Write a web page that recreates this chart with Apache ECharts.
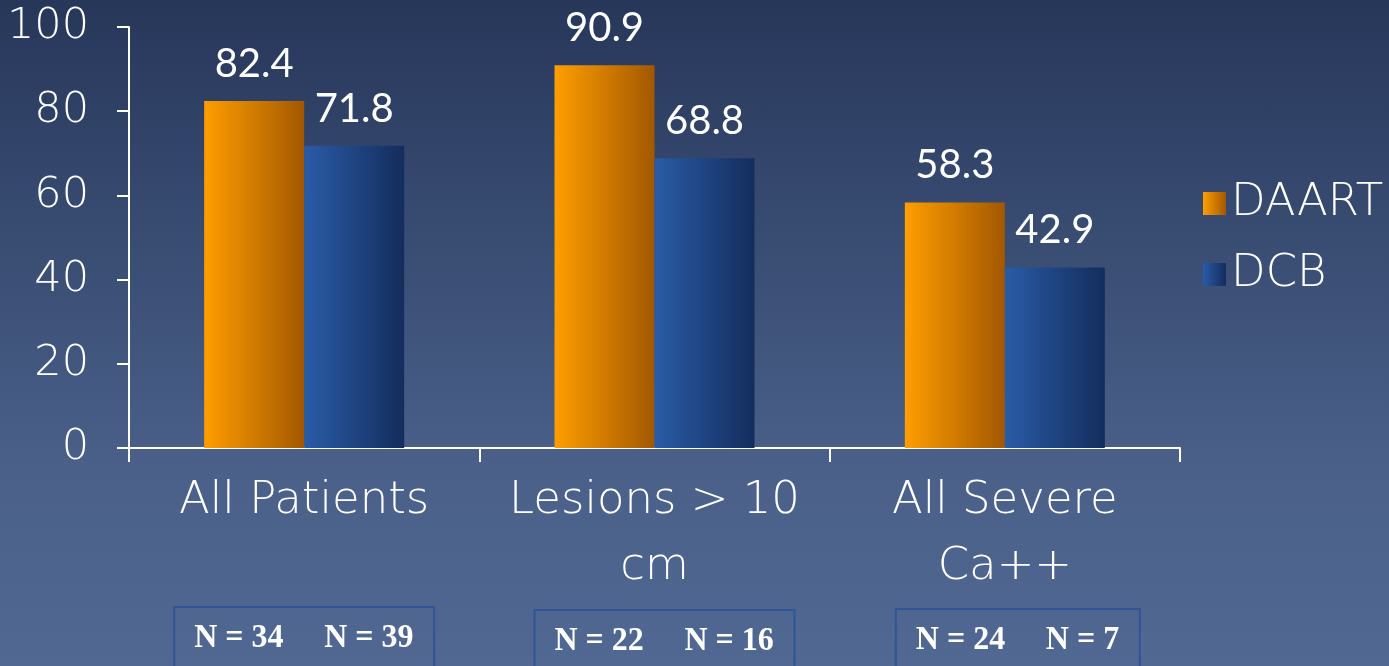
<!DOCTYPE html>
<html>
<head>
<meta charset="utf-8">
<script src="https://cdn.jsdelivr.net/npm/echarts@6/dist/echarts.min.js"></script>
<style>
  html, body { margin: 0; padding: 0; }
  #chart { width: 1389px; height: 666px; background: linear-gradient(to bottom, #27375a 0%, #4a6089 70%, #506892 100%); }
</style>
</head>
<body>
<div id="chart"></div>
<script>
// Success rates (%) by subgroup
const categories = ['All Patients', 'Lesions > 10\ncm', 'All Severe\nCa++'];
const seriesNames = ['DAART', 'DCB'];
const daartValues = [82.4, 90.9, 58.3];
const dcbValues = [71.8, 68.8, 42.9];
const daartN = [34, 22, 24];
const dcbN = [39, 16, 7];
const yTicks = [0, 20, 40, 60, 80, 100];

const FONT = '"DejaVu Sans", sans-serif';
const VALUE_FONT = 'Lato, "Liberation Sans", sans-serif';

function hGrad(c0, c1) {
  return new echarts.graphic.LinearGradient(0, 0, 1, 0, [
    { offset: 0, color: c0 },
    { offset: 1, color: c1 }
  ]);
}
const orangeGrad = hGrad('#ff9e00', '#a25800');
const blueGrad = hGrad('#2a5ba6', '#142d5c');

const chart = echarts.init(document.getElementById('chart'), null, { renderer: 'canvas' });

const valueLabel = {
  show: true, position: 'top', distance: 17, color: '#ffffff',
  fontSize: 40, fontFamily: VALUE_FONT, fontWeight: 400,
  formatter: p => p.value.toFixed(1)
};

const option = {
  backgroundColor: 'transparent',
  animation: false,
  grid: { left: 129, right: 209, top: 27, bottom: 218, containLabel: false },
  legend: {
    orient: 'vertical',
    left: 1198,
    top: 176,
    itemWidth: 23,
    itemHeight: 23,
    itemGap: 26,
    icon: 'rect',
    textStyle: { color: '#ffffff', fontSize: 45, fontFamily: FONT, fontWeight: 200 },
    data: seriesNames
  },
  xAxis: {
    type: 'category',
    data: categories,
    axisLine: { lineStyle: { color: '#ffffff', width: 2 } },
    axisTick: { show: true, length: 14, lineStyle: { color: '#ffffff', width: 2 } },
    axisLabel: {
      color: '#ffffff', fontSize: 45, fontFamily: FONT, fontWeight: 200,
      lineHeight: 66, margin: 20, interval: 0
    }
  },
  yAxis: {
    type: 'value',
    min: 0, max: 100, interval: 20,
    axisLine: { show: true, lineStyle: { color: '#ffffff', width: 2 } },
    axisTick: { show: true, inside: false, length: 12, lineStyle: { color: '#ffffff', width: 2 } },
    splitLine: { show: false },
    axisLabel: {
      color: '#ffffff', fontSize: 43, fontFamily: FONT, fontWeight: 200, margin: 40,
      formatter: v => (yTicks.includes(v) ? String(v) : '')
    }
  },
  series: [
    {
      name: seriesNames[0], type: 'bar', data: daartValues,
      barWidth: 100, barGap: '0%',
      itemStyle: { color: orangeGrad },
      label: valueLabel
    },
    {
      name: seriesNames[1], type: 'bar', data: dcbValues,
      barWidth: 100, barGap: '0%',
      itemStyle: { color: blueGrad },
      label: valueLabel
    }
  ]
};
chart.setOption(option);

// Sample-size boxes under each category
const boxLeftOffsets = [-130, -120, -109];
const boxWidths = [260, 260, 244];
const boxTops = [607, 610, 609];
const elements = [];
categories.forEach((c, i) => {
  const cx = chart.convertToPixel({ xAxisIndex: 0 }, i);
  const left = cx + boxLeftOffsets[i];
  elements.push({
    type: 'rect',
    shape: { x: left, y: boxTops[i], width: boxWidths[i], height: 80 },
    style: { fill: 'rgba(0,0,0,0)', stroke: '#2f5596', lineWidth: 2 },
    silent: true
  });
  [['N = ' + daartN[i], 20], ['N = ' + dcbN[i], 150]].forEach(([txt, dx]) => {
    elements.push({
      type: 'text',
      x: left + dx, y: boxTops[i] + 31,
      scaleY: 1.08,
      style: {
        text: txt,
        fill: '#ffffff',
        font: 'bold 32px "Liberation Serif", "Times New Roman", serif',
        textAlign: 'left', textVerticalAlign: 'middle'
      },
      silent: true
    });
  });
});
chart.setOption({ graphic: { elements } });
</script>
</body>
</html>
